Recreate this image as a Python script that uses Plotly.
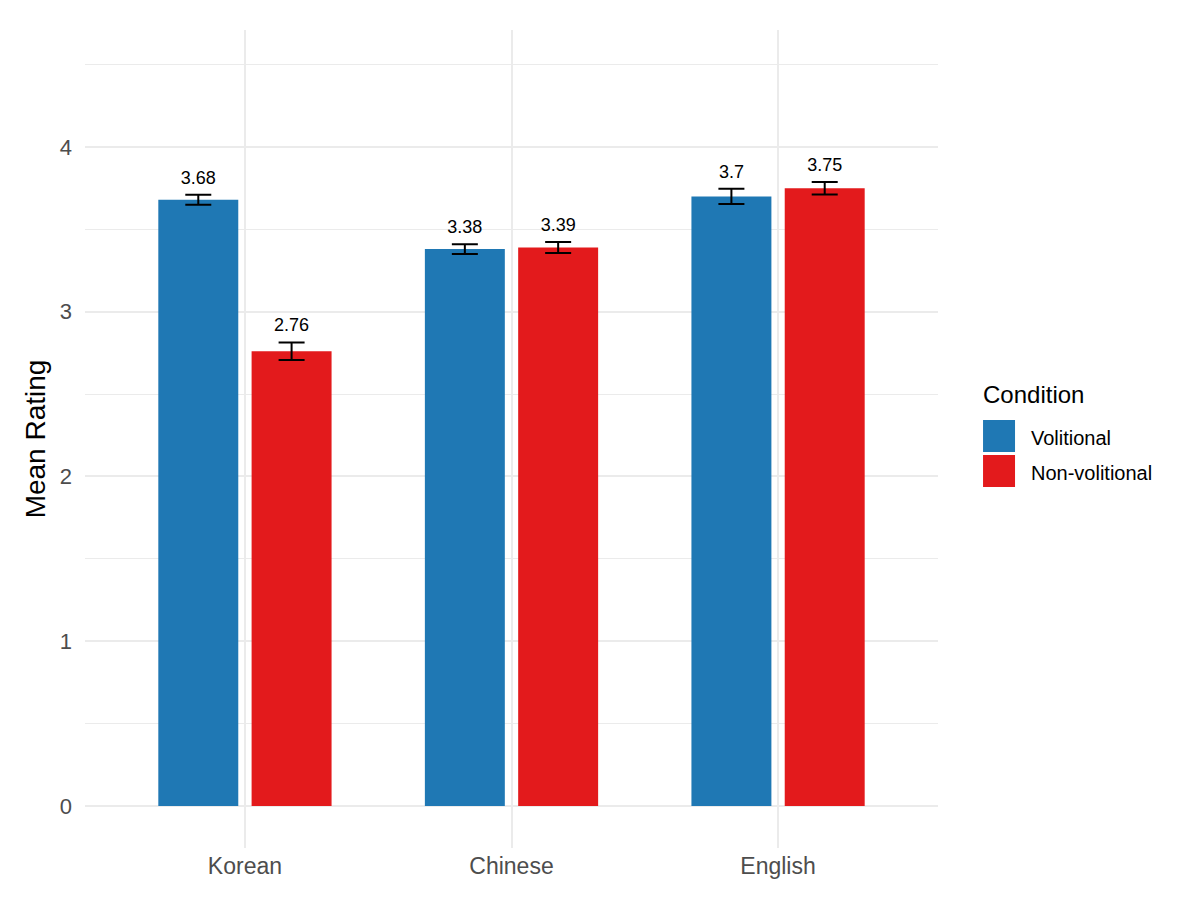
import plotly.graph_objects as go

languages = ["Korean", "Chinese", "English"]
conditions = ["Volitional", "Non-volitional"]
colors = ["#1F78B4", "#E31A1C"]

volitional_mean = [3.68, 3.38, 3.70]
volitional_se = [0.03, 0.03, 0.046]
nonvolitional_mean = [2.76, 3.39, 3.75]
nonvolitional_se = [0.053, 0.033, 0.038]

means = [volitional_mean, nonvolitional_mean]
errors = [volitional_se, nonvolitional_se]

FONT = "Liberation Sans, Arial"

fig = go.Figure()

for i, cond in enumerate(conditions):
    fig.add_trace(go.Bar(
        x=languages,
        y=means[i],
        name=cond,
        offsetgroup=cond,
        marker=dict(color=colors[i], line=dict(width=0)),
        error_y=dict(type="data", array=errors[i], color="black",
                     thickness=2, width=13),
        showlegend=False,
        hoverinfo="skip",
    ))

# value labels sit just above the error bars; invisible markers give the padding
for i, cond in enumerate(conditions):
    tops = [m + e for m, e in zip(means[i], errors[i])]
    labels = [f"{m:g}" for m in means[i]]
    fig.add_trace(go.Scatter(
        x=languages,
        y=tops,
        offsetgroup=cond,
        mode="markers+text",
        marker=dict(size=9, color="rgba(0,0,0,0)"),
        text=labels,
        textposition="top center",
        textfont=dict(family=FONT, size=18, color="black"),
        showlegend=False,
        hoverinfo="skip",
    ))

# legend drawn by hand so the keys are big squares like ggplot
key_x0, key_x1 = 1.0528, 1.0903
key_rows = [(0.5232, 0.4841), (0.4804, 0.4413)]
for i, cond in enumerate(conditions):
    y_top, y_bot = key_rows[i]
    fig.add_shape(type="rect", xref="paper", yref="paper",
                  x0=key_x0, x1=key_x1, y0=y_bot, y1=y_top,
                  fillcolor=colors[i], line=dict(width=0))
    fig.add_annotation(xref="paper", yref="paper", x=1.1065, y=(y_top + y_bot) / 2 - 0.002,
                       text=cond, showarrow=False, xanchor="left", yanchor="middle",
                       font=dict(family=FONT, size=20, color="black"))
fig.add_annotation(xref="paper", yref="paper", x=1.0500, y=0.5538,
                   text="Condition", showarrow=False, xanchor="left", yanchor="middle",
                   font=dict(family=FONT, size=24, color="black"))

fig.update_layout(
    width=1200,
    height=909,
    barmode="group",
    scattermode="group",
    bargap=0.3,
    bargroupgap=0.1429,
    paper_bgcolor="white",
    plot_bgcolor="white",
    margin=dict(l=77, r=270, t=22, b=69),
    font=dict(family=FONT, color="#4D4D4D"),
    showlegend=False,
    xaxis=dict(
        type="category",
        range=[-0.6, 2.6],
        showgrid=True,
        gridcolor="#EBEBEB",
        gridwidth=2,
        zeroline=False,
        showline=False,
        ticks="",
        tickfont=dict(size=23, color="#4D4D4D"),
        ticklabelstandoff=2,
    ),
    yaxis=dict(
        range=[-0.255, 4.71],
        tickvals=[0, 1, 2, 3, 4],
        showgrid=True,
        gridcolor="#EBEBEB",
        gridwidth=2,
        minor=dict(dtick=0.5, tick0=0, showgrid=True, gridcolor="#EBEBEB", gridwidth=1),
        zeroline=False,
        showline=False,
        ticks="",
        tickfont=dict(size=22, color="#4D4D4D"),
        ticklabelstandoff=12,
        title=dict(text="Mean Rating", font=dict(size=28, color="black"), standoff=5),
    ),
)

fig.write_html("out.html")
